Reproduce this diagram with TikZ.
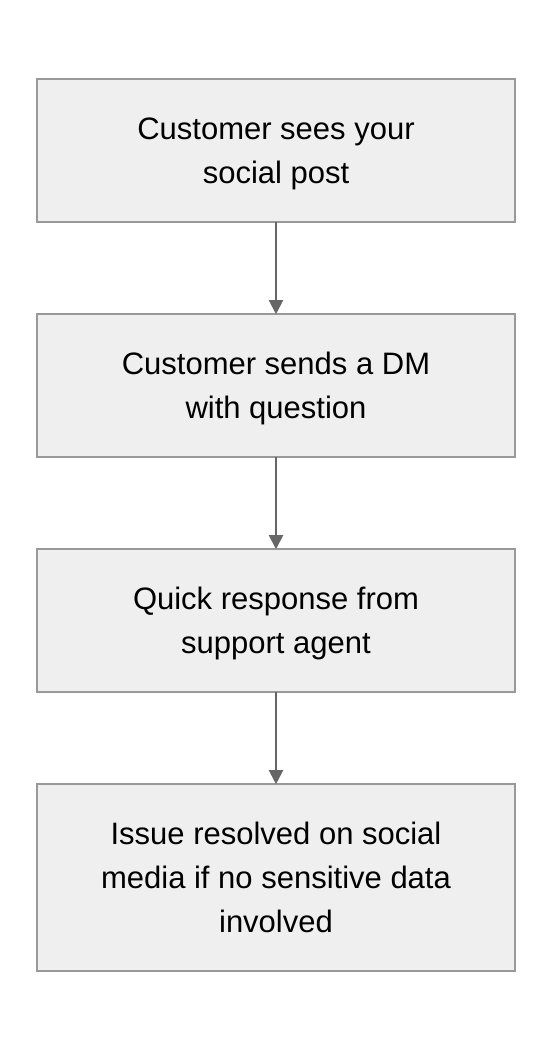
\documentclass[tikz,border=0pt]{standalone}
\usepackage{fontspec}
\setmainfont{Liberation Sans}
\usepackage{tikz}
\usetikzlibrary{arrows.meta}
\usetikzlibrary{positioning}
\usepackage{xcolor}
\definecolor{boxfill}{HTML}{EFEFEF}
\definecolor{boxline}{HTML}{999999}
\definecolor{arrowgray}{HTML}{666666}

\begin{document}
\begin{tikzpicture}[x=1pt,y=1pt]
		\tikzstyle{stepbox} = [draw=boxline, line width=1.5pt, fill=boxfill, rectangle,
		minimum width=478pt, minimum height=143pt, align=center, outer sep=0pt,
		text depth=0pt, font=\fontsize{31}{44}\selectfont]
		\useasboundingbox (0,0) rectangle (552,-1052);
		\matrix[anchor=north, inner sep=0pt, row sep=90.5pt] at (276,-78.25) {
			\node[stepbox] (s1) {Customer sees your\\social post};\\
			\node[stepbox] (s2) {Customer sends a DM\\with question};\\
			\node[stepbox] (s3) {Quick response from\\support agent};\\
			\node[stepbox, minimum height=187pt] (s4) {Issue resolved on social\\media if no sensitive data\\involved};\\
		};
		
			\draw [line width=2pt, arrowgray, -{Triangle[length=14pt,width=14pt]}](s1) -- (s2);
			\draw [line width=2pt, arrowgray, -{Triangle[length=14pt,width=14pt]}](s2) -- (s3);
			\draw [line width=2pt, arrowgray, -{Triangle[length=14pt,width=14pt]}](s3) -- (s4);

		\end{tikzpicture}
\end{document}
